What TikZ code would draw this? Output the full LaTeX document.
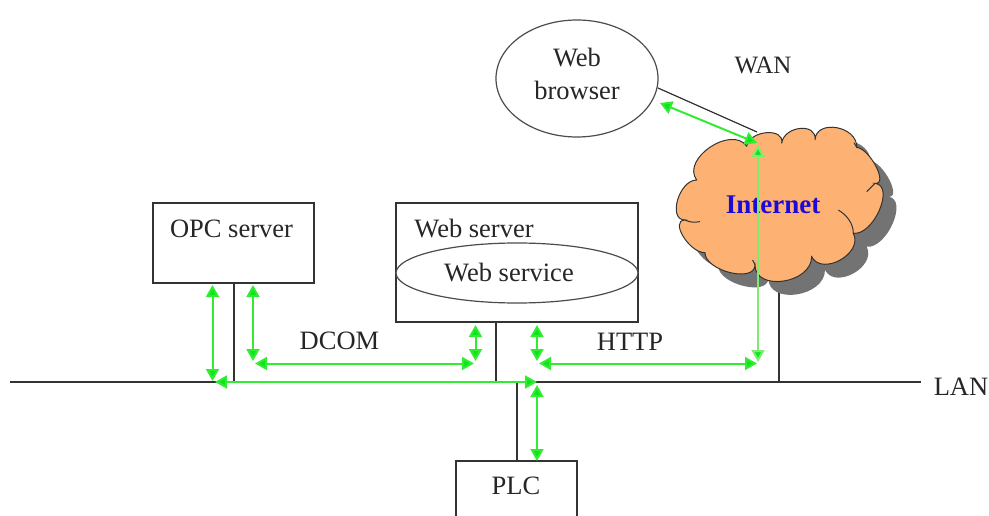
\documentclass[tikz,border=0pt]{standalone}
\usepackage{fontspec}
\setmainfont{Liberation Serif}
\usetikzlibrary{arrows.meta,shapes.geometric}
\definecolor{linegreen}{RGB}{50,236,50}
\definecolor{headgreen}{RGB}{10,230,30}
\definecolor{softgreen}{RGB}{125,235,110}
\definecolor{cloudfill}{RGB}{253,178,115}
\definecolor{netblue}{RGB}{30,10,215}
\tikzset{
  lab/.style={font=\fontsize{26.5}{33}\selectfont,text=black!85,inner sep=0pt,align=center},
  boxnode/.style={draw=black!80,line width=2pt,fill=white,inner sep=0pt,minimum width=#1},
  ringnode/.style={draw=black!70,line width=1.2pt,fill=white,shape=ellipse,inner sep=0pt},
  wire/.style={draw=black!80,line width=2pt},
  flow/.style={draw=linegreen,line width=2pt,{Triangle[length=12pt,width=13pt,fill=headgreen]}-{Triangle[length=12pt,width=13pt,fill=headgreen]}},
  flowsoft/.style={flow,draw=softgreen},
}
\newcommand{\cloudpath}{
  (320,258) .. controls (330,210) and (435,202) .. (425,250)
  .. controls (432,197) and (532,187) .. (525,240)
  .. controls (528,176) and (653,198) .. (650,262)
  .. controls (691,267) and (746,375) .. (705,370)
  .. controls (766,377) and (701,527) .. (640,520)
  .. controls (671,580) and (546,650) .. (515,590)
  .. controls (515,671) and (345,696) .. (345,615)
  .. controls (345,670) and (195,633) .. (195,578)
  .. controls (148,579) and (88,481) .. (135,480)
  .. controls (82,480) and (117,360) .. (170,360)
  .. controls (123,297) and (273,195) .. (320,258) -- cycle}
\begin{document}
\begin{tikzpicture}[x=1pt,y=-1pt]
\useasboundingbox (0,0) rectangle (989,516);
\clip (0,0) rectangle (989,516);
\fill[white] (0,0) rectangle (989,516);
% named end points
\coordinate (busL) at (10,382);
\coordinate (busR) at (921,382);
\coordinate (opcBus) at (233.5,382);
\coordinate (webBus) at (496,382);
\coordinate (plcBus) at (516.5,382);
\coordinate (cloudBus) at (779,382);
\coordinate (cloudStem) at (779,265);
\coordinate (cloudTop) at (757,132);
\coordinate (browserEdge) at (658,88);
% bus
\draw[wire] (busL) -- (busR);
% boxes
\node[boxnode=161pt,minimum height=80pt] (opc) at (233.5,243) {};
\node[boxnode=242pt,minimum height=119pt] (web) at (517,262.5) {};
\node[ringnode,minimum width=242pt,minimum height=60pt] (svc) at (517,273) {};
\node[boxnode=121pt,minimum height=80pt] (plc) at (516.5,501) {};
\node[ringnode,minimum width=162pt,minimum height=117pt] (browser) at (577,78.5) {};
% stems
\coordinate (opcTop) at (233.5,283);
\coordinate (webTop) at (496,322);
\coordinate (plcTop) at (516.5,461);
\draw[wire] (opcTop) -- (opcBus);
\draw[wire] (webTop) -- (webBus);
\draw[wire] (plcTop) -- (plcBus);
\draw[wire] (cloudStem) -- (cloudBus);
\draw[wire,line width=1.2pt] (browserEdge) -- (cloudTop);
% cloud
\begin{scope}[shift={(640,60)},x=0.33333pt,y=-0.33333pt]
\fill[black!55,shift={(40,40)}] \cloudpath;
\draw[fill=cloudfill,draw=black!80,line width=1pt] \cloudpath;
\draw[black!80,line width=1pt] (680,395) -- (705,370);
\draw[black!80,line width=1pt] (595,450) .. controls (620,465) and (640,490) .. (640,520);
\draw[black!80,line width=1pt] (135,480) .. controls (150,488) and (165,487) .. (180,485);
\draw[black!80,line width=1pt] (345,615) -- (338,600);
\draw[black!80,line width=1pt] (650,262) -- (642,248);
\end{scope}
% labels
\node[lab,font=\fontsize{25}{33}\selectfont] (wan) at (763,65) {WAN};
\node[lab] (bt) at (577,73.5) {Web\\browser};
\node[lab] (opct) at (231.5,229) {OPC server};
\node[lab] (webt) at (474,229) {Web server};
\node[lab] (svct) at (509,273) {Web service};
\node[lab] (dcom) at (339.5,341) {DCOM};
\node[lab] (http) at (630,342) {HTTP};
\node[lab] (lan) at (961,387) {LAN};
\node[lab] (plct) at (516,486) {PLC};
\node[lab,font=\fontsize{27}{30}\selectfont\bfseries,text=netblue] (inet) at (773,205) {Internet};
% green flow ends
\coordinate (a1) at (212.5,285);  \coordinate (a2) at (212.5,381);
\coordinate (b1) at (253,285);    \coordinate (b2) at (253,361);
\coordinate (c1) at (475.5,325);  \coordinate (c2) at (475.5,361);
\coordinate (d1) at (537,325);    \coordinate (d2) at (537,361);
\coordinate (e1) at (255,363.5);  \coordinate (e2) at (474,363.5);
\coordinate (f1) at (539,363.5);  \coordinate (f2) at (757,363.5);
\coordinate (g1) at (215,382);    \coordinate (g2) at (537,382);
\coordinate (h1) at (537,385);    \coordinate (h2) at (537,461);
\coordinate (i1) at (758,145);    \coordinate (i2) at (758,362);
\coordinate (j1) at (660,103);    \coordinate (j2) at (757,143);
\draw[flow] (a1) -- (a2);
\draw[flow] (b1) -- (b2);
\draw[flow] (c1) -- (c2);
\draw[flow] (d1) -- (d2);
\draw[flow] (e1) -- (e2);
\draw[flow] (f1) -- (f2);
\draw[flow] (g1) -- (g2);
\draw[flow] (h1) -- (h2);
\draw[flowsoft] (i1) -- (i2);
\draw[flow] (j1) -- (j2);
\end{tikzpicture}
\end{document}
